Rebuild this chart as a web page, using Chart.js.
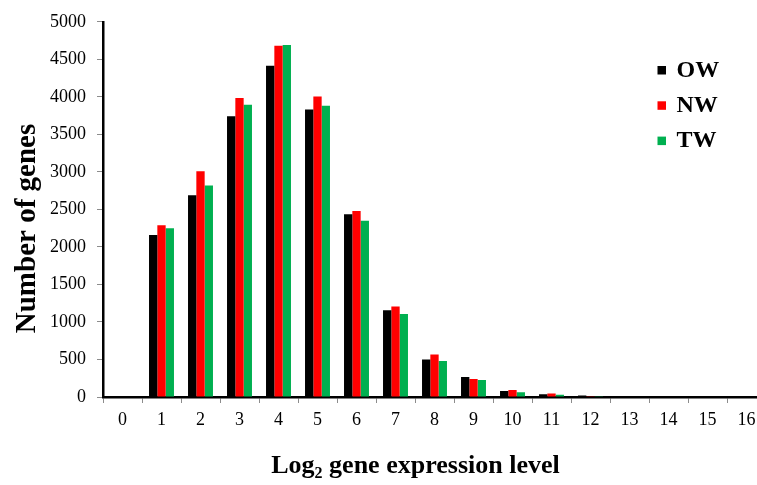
<!DOCTYPE html>
<html>
<head>
<meta charset="utf-8">
<script src="https://cdn.jsdelivr.net/npm/chart.js@4/dist/chart.umd.min.js"></script>
<style>
html, body { margin: 0; padding: 0; overflow: hidden; background: #fff; width: 757px; height: 485px; }
#wrap { width: 770px; height: 485px; }
</style>
</head>
<body>
<div id="wrap"><canvas id="c" width="770" height="485"></canvas></div>
<script>
const categories = ['0','1','2','3','4','5','6','7','8','9','10','11','12','13','14','15','16'];
const seriesNames = ['OW', 'NW', 'TW'];
const OW = [0, 2160, 2690, 3740, 4415, 3830, 2435, 1155, 500, 265, 80, 35, 20, 0, 0, 0, 0];
const NW = [0, 2290, 3010, 3985, 4680, 4005, 2480, 1205, 565, 240, 92, 45, 4, 0, 0, 0, 0];
const TW = [0, 2250, 2820, 3895, 4690, 3880, 2350, 1105, 480, 225, 62, 30, 3, 0, 0, 0, 0];
const yTicks = [0, 500, 1000, 1500, 2000, 2500, 3000, 3500, 4000, 4500, 5000];
const colors = ['#000000', '#FF0000', '#00B050'];

const SERIF = '"Liberation Serif", "Times New Roman", serif';

const overlay = {
  id: 'overlay',
  afterDraw(chart) {
    const ctx = chart.ctx;
    ctx.save();
    // legend
    chart.data.datasets.forEach((ds, i) => {
      const base = 76.5 + 35.3 * i;
      ctx.fillStyle = ds.backgroundColor;
      ctx.fillRect(657.5, base - 10.5, 8.5, 8.5);
      ctx.fillStyle = '#000';
      ctx.font = 'bold 24px ' + SERIF;
      ctx.textBaseline = 'alphabetic';
      ctx.textAlign = 'left';
      ctx.fillText(ds.label, 676.5, base);
    });
    // y title
    ctx.save();
    ctx.translate(35, 228.5);
    ctx.rotate(-Math.PI / 2);
    ctx.font = 'bold 29px ' + SERIF;
    ctx.textAlign = 'center';
    ctx.textBaseline = 'alphabetic';
    ctx.fillStyle = '#000';
    ctx.fillText('Number of genes', 0, 0);
    ctx.restore();
    // x title with subscript
    const big = 'bold 26px ' + SERIF;
    const small = 'bold 16px ' + SERIF;
    ctx.textAlign = 'left';
    ctx.textBaseline = 'alphabetic';
    ctx.fillStyle = '#000';
    ctx.font = big;
    const w1 = ctx.measureText('Log').width;
    const w3 = ctx.measureText(' gene expression level').width;
    ctx.font = small;
    const w2 = ctx.measureText('2').width;
    const total = w1 + w2 + w3;
    let x = 415.5 - total / 2;
    const by = 473;
    ctx.font = big;
    ctx.fillText('Log', x, by);
    x += w1;
    ctx.font = small;
    ctx.fillText('2', x, by + 5);
    x += w2;
    ctx.font = big;
    ctx.fillText(' gene expression level', x, by);
    ctx.restore();
  }
};

new Chart(document.getElementById('c'), {
  type: 'bar',
  data: {
    labels: categories,
    datasets: [
      { label: seriesNames[0], data: OW, backgroundColor: colors[0] },
      { label: seriesNames[1], data: NW, backgroundColor: colors[1] },
      { label: seriesNames[2], data: TW, backgroundColor: colors[2] }
    ]
  },
  options: {
    responsive: false,
    devicePixelRatio: 1,
    animation: false,
    layout: { padding: { top: 18, right: 4, bottom: 0, left: 0 } },
    datasets: { bar: { categoryPercentage: 0.64, barPercentage: 1.0, borderWidth: 0 } },
    plugins: { legend: { display: false }, tooltip: { enabled: false } },
    scales: {
      x: {
        offset: true,
        grid: { offset: true, drawOnChartArea: false, drawTicks: true, tickLength: 6, color: '#8c8c8c', lineWidth: 1 },
        border: { display: true, color: '#000', width: 2.5 },
        ticks: { color: '#000', font: { family: SERIF, size: 18 }, padding: 6, maxRotation: 0, autoSkip: false },
        afterFit(scale) { scale.height = 88; }
      },
      y: {
        min: 0, max: 5000,
        afterBuildTicks(scale) { scale.ticks = yTicks.map(v => ({ value: v })); },
        grid: { drawOnChartArea: false, drawTicks: true, tickLength: 6, color: '#8c8c8c', lineWidth: 1 },
        border: { display: true, color: '#000', width: 2.5 },
        ticks: { color: '#000', font: { family: SERIF, size: 18 }, padding: 11, callback: (v) => String(v) },
        afterFit(scale) { scale.width = 103; }
      }
    }
  },
  plugins: [overlay]
});
</script>
</body>
</html>
